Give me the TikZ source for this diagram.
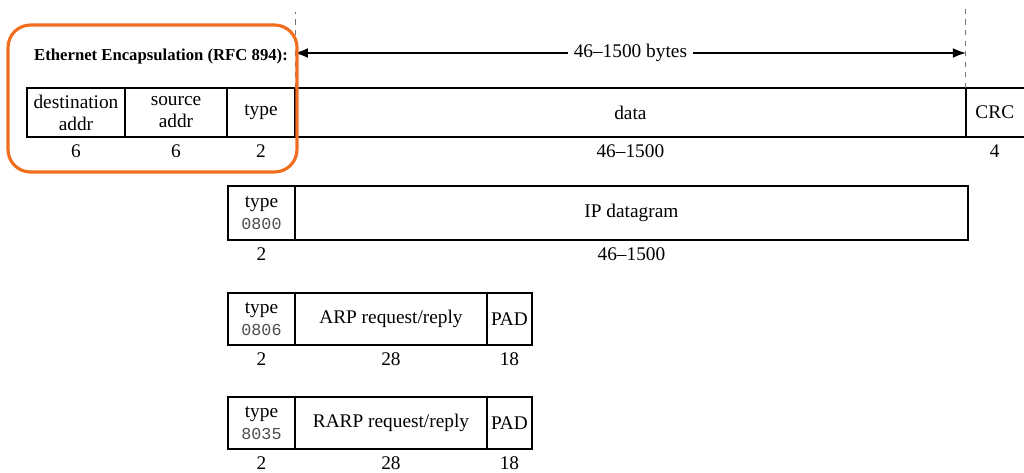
\documentclass[tikz,border=0pt]{standalone}
\usepackage{fontspec}
\setmainfont{Liberation Serif}
\setmonofont{Liberation Mono}
\usetikzlibrary{arrows.meta,positioning}
\definecolor{frameOrange}{RGB}{240,110,30}

\begin{document}
\begin{tikzpicture}[x=0.02cm,y=-0.02cm,>=Latex,
  cell/.style={draw,line width=0.8pt,outer sep=0pt,inner sep=1pt,align=center,
    font=\fontsize{11}{12.5}\selectfont},
  size/.style={inner sep=1pt,font=\fontsize{11}{12}\selectfont}]
  \useasboundingbox (0,0) rectangle (1024,473);
  % ethernet frame
  \node[anchor=west,font=\bfseries\fontsize{9.5}{11}\selectfont] (title) at (28,56)
    {Ethernet Encapsulation (RFC 894):};
  \node[cell,minimum width=1.96cm,minimum height=0.98cm,anchor=north west] (dst) at (27,88)
    {destination\\addr};
  \node[cell,minimum width=2.04cm,minimum height=0.98cm,right=0pt of dst] (src) {source\\addr};
  \node[cell,minimum width=1.36cm,minimum height=0.98cm,right=0pt of src] (typ) {type};
  \node[cell,minimum width=13.42cm,minimum height=0.98cm,right=0pt of typ] (data) {data};
  \node[cell,draw=none,minimum width=1.16cm,minimum height=0.98cm,right=0pt of data] (crc) {CRC};
  \draw[line width=0.8pt] (crc.north west) -- (crc.north east) (crc.south west) -- (crc.south east);
  \node[size,below=3pt of dst] (dstn) {6};
  \node[size,below=3pt of src] (srcn) {6};
  \node[size,below=3pt of typ] (typn) {2};
  \node[size,below=3pt of data] (datan) {46--1500};
  \node[size,below=3pt of crc] (crcn) {4};
  % length of the data field
  \coordinate[above=1.52cm of data.north west] (topL);
  \coordinate[above=1.66cm of data.north east] (topR);
  \coordinate[above=0.7cm of data.north west] (arrL);
  \coordinate[above=0.7cm of data.north east] (arrR);
  \draw[dashed,black!55] (data.north west) -- (topL);
  \draw[dashed,black!55] (data.north east) -- (topR);
  \draw[{Latex[length=2.6mm]}-{Latex[length=2.6mm]},line width=0.6pt] (arrL) -- (arrR)
    node[midway,fill=white,font=\fontsize{11}{12}\selectfont] (len) {46--1500 bytes};
  % IP datagram
  \node[cell,minimum width=1.34cm,minimum height=1.08cm,anchor=north west] (ipT) at (228,186)
    {type\\{\ttfamily\fontsize{9.5}{12}\selectfont\color{black!70}0800}};
  \node[cell,minimum width=13.46cm,minimum height=1.08cm,right=0pt of ipT] (ip) {IP datagram};
  \node[size,below=3pt of ipT] (ipTn) {2};
  \node[size,below=3pt of ip] (ipn) {46--1500};
  % ARP request/reply
  \node[cell,minimum width=1.34cm,minimum height=1.04cm,anchor=north west] (arpT) at (228,293)
    {type\\{\ttfamily\fontsize{9.5}{12}\selectfont\color{black!70}0806}};
  \node[cell,minimum width=3.84cm,minimum height=1.04cm,right=0pt of arpT] (arp) {ARP request/reply};
  \node[cell,minimum width=0.9cm,minimum height=1.04cm,right=0pt of arp] (arpP) {PAD};
  \node[size,below=3pt of arpT] (arpTn) {2};
  \node[size,below=3pt of arp] (arpn) {28};
  \node[size,below=3pt of arpP] (arpPn) {18};
  % RARP request/reply
  \node[cell,minimum width=1.34cm,minimum height=1.04cm,anchor=north west] (rarpT) at (228,397)
    {type\\{\ttfamily\fontsize{9.5}{12}\selectfont\color{black!70}8035}};
  \node[cell,minimum width=3.84cm,minimum height=1.04cm,right=0pt of rarpT] (rarp) {RARP request/reply};
  \node[cell,minimum width=0.9cm,minimum height=1.04cm,right=0pt of rarp] (rarpP) {PAD};
  \node[size,below=3pt of rarpT] (rarpTn) {2};
  \node[size,below=3pt of rarp] (rarpn) {28};
  \node[size,below=3pt of rarpP] (rarpPn) {18};
  % highlight
  \draw[frameOrange,line width=1.8pt,rounded corners=0.45cm] (8,25) rectangle (297,172);
\end{tikzpicture}
\end{document}
